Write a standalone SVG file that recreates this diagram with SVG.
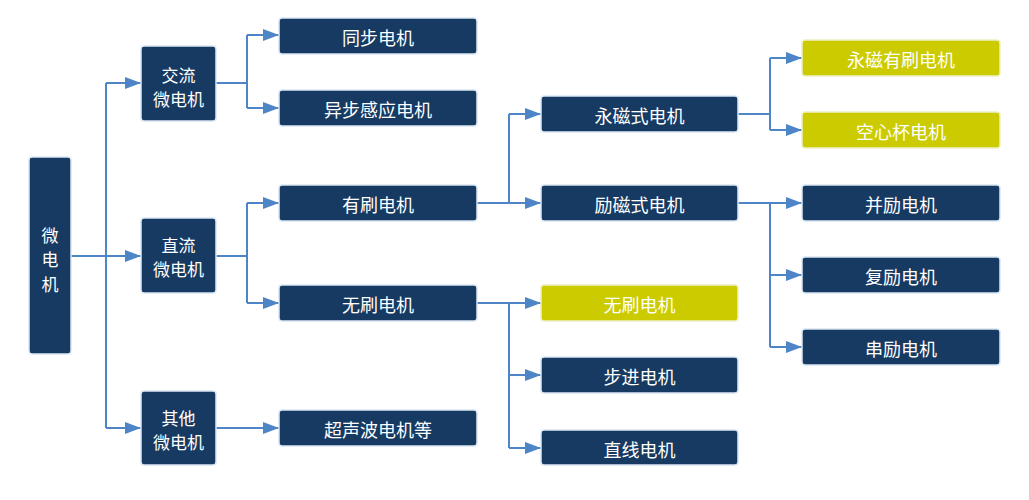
<svg xmlns="http://www.w3.org/2000/svg" width="1029" height="500" viewBox="0 0 1029 500">
<defs>
<marker id="arr" markerUnits="userSpaceOnUse" markerWidth="16" markerHeight="12" refX="16" refY="6" orient="auto">
<path d="M0,0 L16,6 L0,12 Z" fill="#4d85c6"/>
</marker>
<style>
.n rect{fill:#163a62;stroke:#dce7f3;stroke-width:1.5}
.y rect{fill:#cbcb00;stroke:#eef0c8;stroke-width:1.5}
text{font-family:"Noto Sans CJK SC","Noto Sans",sans-serif;font-size:18px;fill:#ffffff;text-anchor:middle;dominant-baseline:central}
text.s{font-size:17px}
.c path{fill:none;stroke:#4d85c6;stroke-width:2}
</style>
</defs>
<rect width="1029" height="500" fill="#ffffff"/>
<g class="c" id="connectors">
<path d="M71,256 H141" marker-end="url(#arr)"/>
<path d="M106,83 V428"/>
<path d="M106,83 H141" marker-end="url(#arr)"/>
<path d="M106,428 H141" marker-end="url(#arr)"/>
<path d="M216,83 H247 M247,35 V108"/>
<path d="M247,35 H279" marker-end="url(#arr)"/>
<path d="M247,108 H279" marker-end="url(#arr)"/>
<path d="M216,256 H247 M247,203 V303"/>
<path d="M247,203 H279" marker-end="url(#arr)"/>
<path d="M247,303 H279" marker-end="url(#arr)"/>
<path d="M216,428 H279" marker-end="url(#arr)"/>
<path d="M477,203 H541" marker-end="url(#arr)"/>
<path d="M509,203 V114"/>
<path d="M509,114 H541" marker-end="url(#arr)"/>
<path d="M477,303 H541" marker-end="url(#arr)"/>
<path d="M509,303 V448"/>
<path d="M509,375 H541" marker-end="url(#arr)"/>
<path d="M509,448 H541" marker-end="url(#arr)"/>
<path d="M738,114 H770 M770,58 V130"/>
<path d="M770,58 H802" marker-end="url(#arr)"/>
<path d="M770,130 H802" marker-end="url(#arr)"/>
<path d="M738,203 H802" marker-end="url(#arr)"/>
<path d="M770,203 V347"/>
<path d="M770,275 H802" marker-end="url(#arr)"/>
<path d="M770,347 H802" marker-end="url(#arr)"/>
</g>
<g id="root" class="n"><rect x="29" y="157" width="42" height="197" rx="3"/><text class="s" x="50" y="234">微</text><text class="s" x="50" y="258.5">电</text><text class="s" x="50" y="283">机</text></g>
<g id="ac" class="n"><rect x="141" y="46" width="75" height="75" rx="3"/><text class="s" x="178.5" y="74">交流</text><text class="s" x="178.5" y="98">微电机</text></g>
<g id="dc" class="n"><rect x="141" y="218" width="75" height="75" rx="3"/><text class="s" x="178.5" y="244">直流</text><text class="s" x="178.5" y="268">微电机</text></g>
<g id="other" class="n"><rect x="141" y="391" width="75" height="74" rx="3"/><text class="s" x="178.5" y="417">其他</text><text class="s" x="178.5" y="441">微电机</text></g>
<g id="sync" class="n"><rect x="279" y="18" width="198" height="36" rx="3"/><text x="378" y="37">同步电机</text></g>
<g id="async" class="n"><rect x="279" y="90" width="198" height="36" rx="3"/><text x="378" y="109">异步感应电机</text></g>
<g id="brushed" class="n"><rect x="279" y="185" width="198" height="36" rx="3"/><text x="378" y="204">有刷电机</text></g>
<g id="brushless" class="n"><rect x="279" y="285" width="198" height="36" rx="3"/><text x="378" y="304">无刷电机</text></g>
<g id="ultra" class="n"><rect x="279" y="410" width="198" height="36" rx="3"/><text x="378" y="429">超声波电机等</text></g>
<g id="pm" class="n"><rect x="541" y="96" width="197" height="36" rx="3"/><text x="639.5" y="115">永磁式电机</text></g>
<g id="ex" class="n"><rect x="541" y="185" width="197" height="36" rx="3"/><text x="639.5" y="204">励磁式电机</text></g>
<g id="bldc" class="y"><rect x="541" y="285" width="197" height="36" rx="3"/><text x="639.5" y="304">无刷电机</text></g>
<g id="step" class="n"><rect x="541" y="357" width="197" height="36" rx="3"/><text x="639.5" y="376">步进电机</text></g>
<g id="linear" class="n"><rect x="541" y="430" width="197" height="35" rx="3"/><text x="639.5" y="449">直线电机</text></g>
<g id="pmb" class="y"><rect x="802" y="40" width="198" height="36" rx="3"/><text x="901" y="59">永磁有刷电机</text></g>
<g id="coreless" class="y"><rect x="802" y="112" width="198" height="36" rx="3"/><text x="901" y="131">空心杯电机</text></g>
<g id="shunt" class="n"><rect x="802" y="185" width="198" height="36" rx="3"/><text x="901" y="204">并励电机</text></g>
<g id="compound" class="n"><rect x="802" y="257" width="198" height="36" rx="3"/><text x="901" y="276">复励电机</text></g>
<g id="series" class="n"><rect x="802" y="329" width="198" height="36" rx="3"/><text x="901" y="348">串励电机</text></g>
</svg>
